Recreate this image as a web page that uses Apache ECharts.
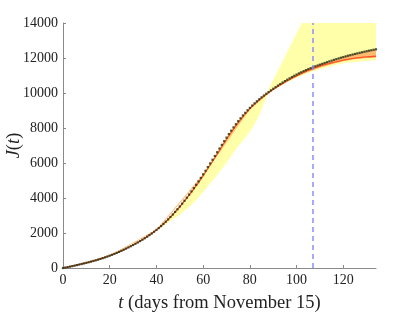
<!DOCTYPE html>
<html><head><meta charset="utf-8">
<script src="https://cdn.jsdelivr.net/npm/echarts@6/dist/echarts.min.js"></script>
<style>html,body{margin:0;padding:0;background:#fff}#c{width:415px;height:312px}</style>
</head><body><div id="c"></div>
<script>
// observed cumulative J(t), one value per day t = 0..134
const observedJ = [
  0,26,52,80,108,138,168,199,231,263,296,
  330,365,401,439,478,519,562,607,654,703,
  754,808,864,922,983,1046,1110,1176,1244,1313,
  1385,1459,1537,1617,1701,1788,1879,1974,2073,2176,
  2284,2398,2518,2644,2776,2914,3056,3204,3356,3514,
  3676,3844,4016,4194,4376,4563,4754,4949,5148,5351,
  5557,5765,5975,6187,6401,6615,6827,7037,7245,7451,
  7653,7847,8035,8215,8389,8555,8715,8867,9013,9151,
  9283,9409,9529,9643,9751,9855,9956,10054,10150,10244,
  10335,10424,10511,10596,10679,10760,10837,10912,10985,11054,
  11121,11185,11246,11305,11362,11416,11469,11521,11571,11619,
  11667,11714,11760,11805,11849,11893,11935,11976,12016,12054,
  12092,12128,12164,12198,12232,12264,12296,12327,12358,12387,
  12416,12444,12471,12497
];
// model fit (red line)
const modelT = [0,5,10,15,20,25,30,35,40,45,50,55,60,65,70,75,80,85,90,95,100,105,110,115,120,125,130,134];
const modelJ = [0,138,296,478,703,983,1313,1701,2176,2776,3500,4330,5270,6300,7350,8300,9090,9710,10200,10620,10980,11290,11530,11720,11880,11990,12060,12100];
// narrow (orange) band
const orangeT  = [0,20,40,60,80,90,95,100,104,107,111,115,120,124,127,131,134];
const orangeLo = [0,690,2150,5260,9070,10180,10590,10930,11160,11300,11490,11650,11820,11920,11960,12000,12030];
const orangeHi = [0,715,2200,5360,9160,10260,10690,11070,11360,11500,11700,11850,12080,12220,12300,12430,12510];
// wide (yellow) band
const yellowT  = [0,10,20,25,30,35,40,45,50,55,57,60,65,70,74,78,80,82,84,86,87,88,89,90,95,100,105,110,115,120,127,134];
const yellowLo = [0,280,680,960,1290,1680,2120,2600,3050,3600,3880,4350,5150,6000,6780,7440,7790,8200,8720,9380,9720,9960,10090,10170,10560,10870,11140,11360,11540,11700,11800,11870];
const yellowHi = [0,320,750,1040,1370,1730,2200,2800,3530,4390,4770,5370,6420,7460,8240,8890,9160,9420,9660,9880,9990,10230,10490,10750,12080,13410,14750,15000,15000,15000,15000,15000];
const cutoffDay = 107;
const xTicks = [0,20,40,60,80,100,120];

const FONT = 'Liberation Serif';

function bandSeries(t, lo, hi, color, z) {
  return {
    type: 'custom', silent: true, clip: true, z: z,
    data: [[t[0], lo[0]]],
    renderItem: function (params, api) {
      const pts = [];
      for (let i = 0; i < t.length; i++) pts.push(api.coord([t[i], lo[i]]));
      for (let i = t.length - 1; i >= 0; i--) pts.push(api.coord([t[i], hi[i]]));
      return {type: 'polygon', shape: {points: pts}, style: {fill: color, stroke: null}};
    }
  };
}

const chart = echarts.init(document.getElementById('c'), null, {renderer: 'canvas'});
chart.setOption({
  animation: false,
  grid: {left: 63, right: 39, top: 23, bottom: 44, containLabel: false, outerBoundsMode: 'none'},
  xAxis: {
    type: 'value', min: 0, max: 134,
    name: '{i|t} (days from November 15)', nameLocation: 'middle', nameGap: 26, nameMoveOverlap: false,
    nameTextStyle: {fontFamily: FONT, fontSize: 18.5, color: '#222',
      rich: {i: {fontFamily: FONT, fontStyle: 'italic', fontSize: 18.5, color: '#222'}}},
    axisLine: {lineStyle: {color: '#8a8a8a', width: 1}},
    axisTick: {inside: true, length: 3, customValues: xTicks, lineStyle: {color: '#8a8a8a'}},
    axisLabel: {customValues: xTicks, margin: 5, fontFamily: FONT, fontSize: 14, color: '#222'},
    splitLine: {show: false}
  },
  yAxis: {
    type: 'value', min: 0, max: 14000, interval: 2000,
    name: '{i|J}({i|t})', nameLocation: 'middle', nameGap: 39, nameRotate: 90, nameMoveOverlap: false,
    nameTextStyle: {fontFamily: FONT, fontSize: 18.5, color: '#222',
      rich: {i: {fontFamily: FONT, fontStyle: 'italic', fontSize: 18.5, color: '#222'}}},
    axisLine: {show: true, lineStyle: {color: '#8a8a8a', width: 1}},
    axisTick: {show: true, inside: true, length: 3, lineStyle: {color: '#8a8a8a'}},
    axisLabel: {margin: 5, fontFamily: FONT, fontSize: 14, color: '#222', formatter: v => String(v)},
    splitLine: {show: false}
  },
  series: [
    bandSeries(yellowT, yellowLo, yellowHi, '#ffffaa', 1),
    bandSeries(orangeT, orangeLo, orangeHi, '#ffbb70', 2),
    {type: 'line', name: 'model', data: modelT.map((x, i) => [x, modelJ[i]]), symbol: 'none', smooth: 0.3, silent: true,
      lineStyle: {color: '#ff5522', width: 1.3}, z: 3},
    {type: 'scatter', name: 'obs', data: observedJ.map((v, i) => [i, v]), symbol: 'rect', symbolSize: 2.2,
      itemStyle: {color: '#1e2c10'}, silent: true, z: 4,
      markLine: {symbol: 'none', silent: true, label: {show: false}, animation: false,
        lineStyle: {type: [5, 4], color: '#8c8cff', width: 1.5}, data: [{xAxis: cutoffDay}]}}
  ]
});
</script></body></html>
